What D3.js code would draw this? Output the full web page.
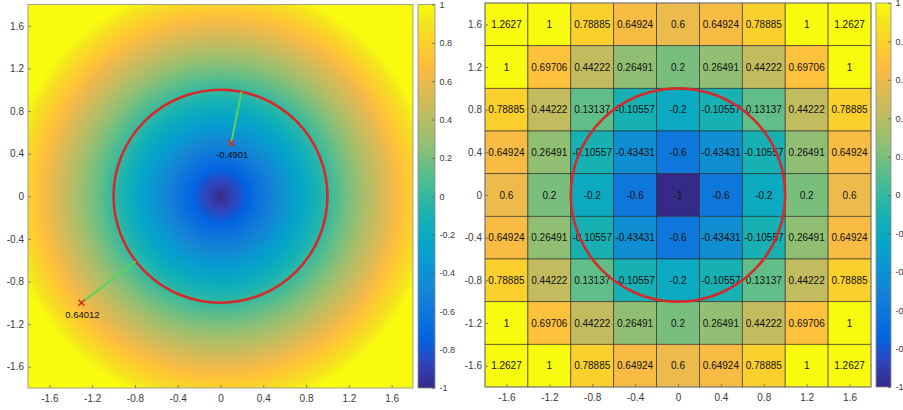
<!DOCTYPE html>
<html>
<head>
<meta charset="utf-8">
<script src="https://cdn.jsdelivr.net/npm/d3@7"></script>
<style>
  html, body { margin: 0; padding: 0; background: #fff; overflow: hidden; }
  svg { display: block; font-family: "Liberation Sans", Arial, sans-serif; }
</style>
</head>
<body>
<svg id="chart"></svg>
<script>
// grid centres (x left -> right, y top -> bottom)
const xCenters = [-1.6, -1.2, -0.8, -0.4, 0, 0.4, 0.8, 1.2, 1.6];
const yCenters = [1.6, 1.2, 0.8, 0.4, 0, -0.4, -0.8, -1.2, -1.6];

// cell values, one row per y centre
const gridValues = [
  [1.2627, 1, 0.78885, 0.64924, 0.6, 0.64924, 0.78885, 1, 1.2627],
  [1, 0.69706, 0.44222, 0.26491, 0.2, 0.26491, 0.44222, 0.69706, 1],
  [0.78885, 0.44222, 0.13137, -0.10557, -0.2, -0.10557, 0.13137, 0.44222, 0.78885],
  [0.64924, 0.26491, -0.10557, -0.43431, -0.6, -0.43431, -0.10557, 0.26491, 0.64924],
  [0.6, 0.2, -0.2, -0.6, -1, -0.6, -0.2, 0.2, 0.6],
  [0.64924, 0.26491, -0.10557, -0.43431, -0.6, -0.43431, -0.10557, 0.26491, 0.64924],
  [0.78885, 0.44222, 0.13137, -0.10557, -0.2, -0.10557, 0.13137, 0.44222, 0.78885],
  [1, 0.69706, 0.44222, 0.26491, 0.2, 0.26491, 0.44222, 0.69706, 1],
  [1.2627, 1, 0.78885, 0.64924, 0.6, 0.64924, 0.78885, 1, 1.2627]
];

// probe points on the left panel
const probeX = [0.1, -1.3];
const probeY = [0.5, -1];
const probeLabels = ["-0.4901", "0.64012"];
const circleRadius = 1;

const axisTicks = [-1.6, -1.2, -0.8, -0.4, 0, 0.4, 0.8, 1.2, 1.6];
const cbarTicks = [1, 0.8, 0.6, 0.4, 0.2, 0, -0.2, -0.4, -0.6, -0.8, -1];
const fieldDomain = [-1.8, 1.8];
const colorLimits = [-1, 1];

// parula colormap samples
const parula = [
  [0.2081, 0.1663, 0.5292], [0.1959, 0.2645, 0.7279], [0.0117, 0.3875, 0.8820],
  [0.0498, 0.4586, 0.8641], [0.0793, 0.5200, 0.8312], [0.0343, 0.5966, 0.8199],
  [0.0228, 0.6535, 0.7768], [0.0843, 0.6928, 0.7062], [0.2178, 0.7250, 0.6193],
  [0.3953, 0.7459, 0.5244], [0.5709, 0.7485, 0.4494], [0.7184, 0.7411, 0.3905],
  [0.8507, 0.7299, 0.3360], [0.9739, 0.7314, 0.2666], [0.9990, 0.7653, 0.2164],
  [0.9880, 0.8066, 0.1794], [0.9589, 0.8949, 0.1132], [0.9763, 0.9831, 0.0538]
];
const parulaPos = [0, 4, 8, 12, 16, 20, 24, 28, 32, 36, 40, 44, 48, 52, 54, 56, 60, 63].map(i => i / 63);
const parulaHex = parula.map(c => d3.rgb(c[0] * 255, c[1] * 255, c[2] * 255).formatHex());

const color = d3.scaleLinear()
  .domain(parulaPos.map(t => colorLimits[0] + t * (colorLimits[1] - colorLimits[0])))
  .range(parulaHex)
  .clamp(true);

const svg = d3.select("#chart").attr("width", 903).attr("height", 410);
const defs = svg.append("defs");

// radial field: value = r - 1, so colour position = r / 2
const rg = defs.append("radialGradient").attr("id", "field")
  .attr("cx", 0.5).attr("cy", 0.5).attr("fx", 0.5).attr("fy", 0.5)
  .attr("r", 2 / (fieldDomain[1] - fieldDomain[0]));
parulaPos.forEach((t, i) => rg.append("stop").attr("offset", t).attr("stop-color", parulaHex[i]));

const lg = defs.append("linearGradient").attr("id", "cbar")
  .attr("x1", 0).attr("y1", 1).attr("x2", 0).attr("y2", 0);
parulaPos.forEach((t, i) => lg.append("stop").attr("offset", t).attr("stop-color", parulaHex[i]));

const textColor = "#3a3a3a";
const boxColor = "#8c8c8c";

function styleAxis(g) {
  g.select(".domain").remove();
  g.selectAll(".tick line").attr("stroke", "#555").attr("stroke-width", 0.7);
  g.selectAll(".tick text").attr("fill", textColor).style("font-size", "10px");
}

function drawAxes(x, y, ypad) {
  const [x0, x1] = x.range(), [y0, y1] = y.range();
  svg.append("g").attr("transform", `translate(0,${y0})`)
    .call(d3.axisBottom(x).tickValues(axisTicks).tickFormat(d => String(d)).tickSize(-3).tickPadding(6.5))
    .call(styleAxis);
  svg.append("g").attr("transform", `translate(${x0},0)`)
    .call(d3.axisLeft(y).tickValues(axisTicks).tickFormat(d => String(d)).tickSize(-3).tickPadding(ypad))
    .call(styleAxis);
  svg.append("rect").attr("x", x0).attr("y", y1).attr("width", x1 - x0).attr("height", y0 - y1)
    .attr("fill", "none").attr("stroke", boxColor).attr("stroke-width", 0.8);
}

function drawColorbar(left, right, y) {
  const [y0, y1] = y.range();
  svg.append("rect").attr("x", left).attr("y", y1).attr("width", right - left).attr("height", y0 - y1)
    .attr("fill", "url(#cbar)").attr("stroke", boxColor).attr("stroke-width", 0.8);
  svg.append("g").attr("transform", `translate(${right},0)`)
    .call(d3.axisRight(y).tickValues(cbarTicks).tickFormat(d => String(d)).tickSize(-3).tickPadding(4.5))
    .call(styleAxis)
    .call(g => g.selectAll(".tick text").style("font-size", "9px"));
}

// ---- left panel: continuous field ----
const xL = d3.scaleLinear().domain(fieldDomain).range([28, 413]);
const yL = d3.scaleLinear().domain(fieldDomain).range([388, 4.5]);

svg.append("rect")
  .attr("x", xL(fieldDomain[0])).attr("y", yL(fieldDomain[1]))
  .attr("width", xL(fieldDomain[1]) - xL(fieldDomain[0]))
  .attr("height", yL(fieldDomain[0]) - yL(fieldDomain[1]))
  .attr("fill", "url(#field)");

svg.append("ellipse")
  .attr("cx", xL(0)).attr("cy", yL(0))
  .attr("rx", xL(circleRadius) - xL(0)).attr("ry", yL(0) - yL(circleRadius))
  .attr("fill", "none").attr("stroke", "#d42a2a").attr("stroke-width", 2.6);

const probes = probeX.map((px, i) => {
  const r = Math.hypot(px, probeY[i]);
  return { x: px, y: probeY[i], cx: px / r * circleRadius, cy: probeY[i] / r * circleRadius, label: probeLabels[i] };
});

svg.selectAll(".link").data(probes).enter().append("line")
  .attr("x1", d => xL(d.x)).attr("y1", d => yL(d.y))
  .attr("x2", d => xL(d.cx)).attr("y2", d => yL(d.cy))
  .attr("stroke", "#55d45a").attr("stroke-width", 2);

const mk = svg.selectAll(".mk").data(probes).enter().append("g")
  .attr("transform", d => `translate(${xL(d.x)},${yL(d.y)})`);
mk.append("path").attr("d", "M-3,-3L3,3M-3,3L3,-3")
  .attr("stroke", "#e0261e").attr("stroke-width", 1.5);
mk.append("text").attr("x", 1).attr("y", 15)
  .attr("text-anchor", "middle").style("font-size", "9.5px").attr("fill", "#111")
  .text(d => d.label);

drawAxes(xL, yL, 4);
drawColorbar(418, 435, d3.scaleLinear().domain(colorLimits).range([388, 4.5]));

// ---- right panel: cell grid ----
const xR = d3.scaleLinear().domain(fieldDomain).range([485, 871]);
const yR = d3.scaleLinear().domain(fieldDomain).range([387, 3]);
const half = 0.2;

const cells = [];
yCenters.forEach((yc, r) => xCenters.forEach((xc, c) => cells.push({ xc, yc, v: gridValues[r][c] })));

svg.selectAll(".cell").data(cells).enter().append("rect")
  .attr("x", d => xR(d.xc - half)).attr("y", d => yR(d.yc + half))
  .attr("width", d => xR(d.xc + half) - xR(d.xc - half))
  .attr("height", d => yR(d.yc - half) - yR(d.yc + half))
  .attr("fill", d => color(d.v))
  .attr("stroke", "#2a2a2a").attr("stroke-width", 0.8).attr("stroke-opacity", 0.75);

svg.selectAll(".cellText").data(cells).enter().append("text")
  .attr("x", d => xR(d.xc)).attr("y", d => yR(d.yc))
  .attr("dy", "0.35em").attr("text-anchor", "middle")
  .style("font-size", "10px").attr("fill", "#111")
  .text(d => String(d.v));

svg.append("ellipse")
  .attr("cx", xR(0)).attr("cy", yR(0))
  .attr("rx", xR(circleRadius) - xR(0)).attr("ry", yR(0) - yR(circleRadius))
  .attr("fill", "none").attr("stroke", "#d42a2a").attr("stroke-width", 2.6);

drawAxes(xR, yR, 3);
drawColorbar(876, 891, d3.scaleLinear().domain(colorLimits).range([387, 3]));
</script>
</body>
</html>
